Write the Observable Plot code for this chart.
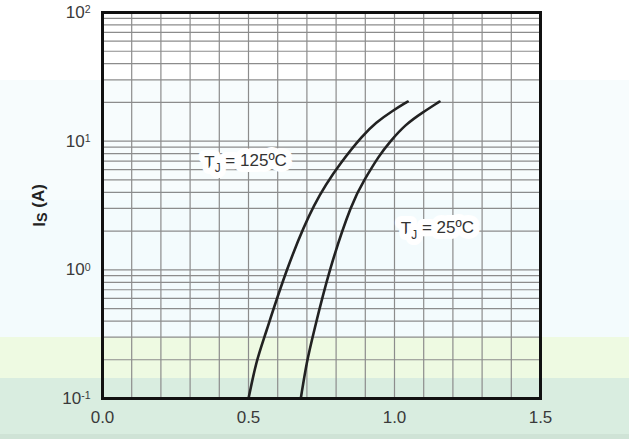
<!DOCTYPE html>
<html>
<head>
<meta charset="utf-8">
<script src="https://cdn.jsdelivr.net/npm/d3@7"></script>
<script src="https://cdn.jsdelivr.net/npm/@observablehq/plot@0.6"></script>
<style>
  html, body { margin: 0; padding: 0; }
  body {
    width: 629px; height: 439px; overflow: hidden;
    background: linear-gradient(to bottom,
      #ffffff 0px, #ffffff 80px,
      #f7fcfd 80px, #f7fcfd 200px,
      #f3fbfd 200px, #f3fbfd 337px,
      #eefae2 337px, #eefae2 378px,
      #d9ede0 378px, #d9ede0 434px,
      #cfe3d6 434px, #cfe3d6 439px);
    font-family: "Liberation Sans", Arial, sans-serif;
  }
</style>
</head>
<body>
<div id="chart"></div>
<script>
// Source-drain diode forward voltage (V) vs source current IS (A)
const vsd125 = [0.500, 0.527, 0.555, 0.627, 0.725, 0.822, 0.890, 0.936, 0.993, 1.045];
const is125  = [0.1,   0.197, 0.30,  0.98,  3.44,  7.13,  11.0,  13.96, 17.2,  20.3];
const vsd25  = [0.679, 0.700, 0.721, 0.775, 0.856, 0.895, 0.947, 0.982, 1.039, 1.096, 1.154];
const is25   = [0.1,   0.197, 0.31,  0.99,  3.44,  4.93,  7.71,  9.78,  13.6,  16.7,  20.3];

const xTicks = [0.0, 0.5, 1.0, 1.5];
const xTickLabels = ["0.0", "0.5", "1.0", "1.5"];
const yTicks = [0.1, 1, 10, 100];
const yExponents = ["-1", "0", "1", "2"];
const xGrid = d3.range(0, 16).map(i => i / 10);
const yGrid = [0.1, 1, 10].flatMap(d => [1,2,3,4,5,6,7,8,9].map(k => +(d * k).toPrecision(3))).concat([100]);

const labels = [
  {vsd: 0.49, is: 6.8, base: "T", sub: "J", rest: " = 125ºC"},
  {vsd: 1.147, is: 2.08, base: "T", sub: "J", rest: " = 25ºC"}
];

const curves = [
  ...vsd125.map((v, i) => ({vsd: v, is: is125[i], tj: "125"})),
  ...vsd25.map((v, i) => ({vsd: v, is: is25[i], tj: "25"}))
];

const xFmt = new Map(xTicks.map((v, i) => [v, xTickLabels[i]]));
const yFmt = new Map(yTicks.map((v, i) => [v, "10^" + yExponents[i]]));

const chart = Plot.plot({
  width: 629,
  height: 439,
  marginLeft: 102,
  marginRight: 89,
  marginTop: 12,
  marginBottom: 41,
  style: {background: "transparent", fontFamily: "Liberation Sans, Arial, sans-serif", fontSize: "17px", color: "#3a3a3a"},
  x: {domain: [0, 1.5], label: null},
  y: {type: "log", domain: [0.1, 100]},
  marks: [
    Plot.ruleX(xGrid, {stroke: "#8c8c8c", strokeWidth: 1.2}),
    Plot.ruleY(yGrid, {stroke: "#8c8c8c", strokeWidth: 1.2}),
    Plot.line(curves, {x: "vsd", y: "is", z: "tj", stroke: "#222", strokeWidth: 2.6, curve: "basis"}),
    Plot.text(labels, {x: "vsd", y: "is", text: d => d.base + d.sub + d.rest, fontSize: 17, fill: "#333", stroke: "white", strokeWidth: 12, className: "tjlabel"}),
    Plot.frame({stroke: "#111", strokeWidth: 3}),
    Plot.axisX(xTicks, {tickSize: 0, tickPadding: 12, tickFormat: d => xFmt.get(d), fontSize: 17, fill: "#3a3a3a", label: null}),
    Plot.axisY(yTicks, {tickSize: 0, tickPadding: 12, tickFormat: d => yFmt.get(d), fontSize: 17, fill: "#3a3a3a", label: "IS (A)", labelAnchor: "center", labelArrow: "none", labelOffset: 70})
  ]
});
document.getElementById("chart").appendChild(chart);

// Superscript exponents on the y tick labels
d3.select(chart).selectAll("text").each(function() {
  const t = this.textContent;
  const m = /^10\^(-?\d)$/.exec(t);
  if (m) {
    const el = d3.select(this);
    el.text("10");
    el.append("tspan").attr("dy", "-0.45em").attr("font-size", "0.62em").text(m[1]);
  }
});
// Subscript J in the temperature labels
d3.select(chart).selectAll(".tjlabel text").each(function(d, i) {
  const el = d3.select(this);
  const lab = labels[i];
  el.text(lab.base);
  el.append("tspan").attr("dy", "0.35em").attr("font-size", "0.7em").text(lab.sub);
  el.append("tspan").attr("dy", "-0.35em").text(lab.rest);
});
// Bold y label with subscript S
d3.select(chart).selectAll("text").filter(function() { return this.textContent === "IS (A)"; }).each(function() {
  const el = d3.select(this);
  el.attr("font-weight", "bold").attr("fill", "#222");
  el.text("I");
  el.append("tspan").attr("font-size", "0.85em").attr("dy", "0.15em").text("S");
  el.append("tspan").attr("dy", "-0.15em").text(" (A)");
});
</script>
</body>
</html>
